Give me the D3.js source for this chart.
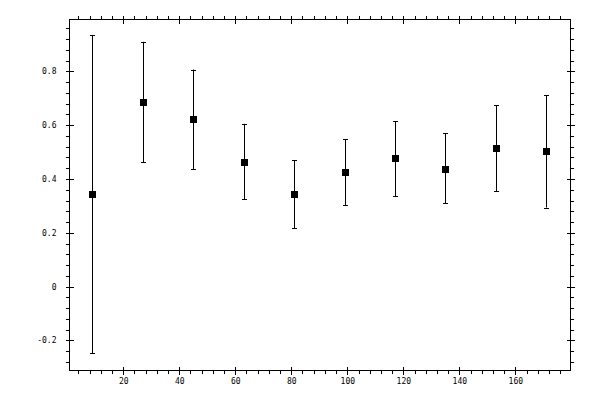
<!DOCTYPE html>
<html>
<head>
<meta charset="utf-8">
<script src="https://cdn.jsdelivr.net/npm/d3@7"></script>
<style>
  body { margin: 0; background: #fff; }
  svg { display: block; }
  .tick text { font-family: "DejaVu Sans Mono", monospace; font-size: 8px; fill: #000; }
</style>
</head>
<body>
<script>
(function() {

    // data
    var xs    = [9, 27, 45, 63, 81, 99, 117, 135, 153, 171];
    var means = [0.343, 0.688, 0.623, 0.465, 0.343, 0.425, 0.477, 0.439, 0.514, 0.503];
    var highs = [0.935, 0.910, 0.807, 0.605, 0.469, 0.547, 0.614, 0.570, 0.674, 0.711];
    var lows  = [-0.248, 0.462, 0.436, 0.324, 0.216, 0.302, 0.335, 0.309, 0.354, 0.294];

    var xTicks = [20, 40, 60, 80, 100, 120, 140, 160];
    var yTicks = [-0.2, 0, 0.2, 0.4, 0.6, 0.8];

    var width = 600, height = 400;
    var left = 69.5, right = 570.5, top = 19.5, bottom = 370.5;

    var data = xs.map(function(d, i) {
        return {x: d, y: means[i], hi: highs[i], lo: lows[i]};
    });

    var x = d3.scaleLinear().domain([0.8, 179.7]).range([left, right]);
    var y = d3.scaleLinear().domain([-0.312, 0.993]).range([bottom, top]);

    var xMinor = d3.range(1, 45).map(function(i) { return i * 4; })
        .filter(function(v) { return v % 20 !== 0; });
    var yMinor = d3.range(-7, 25).map(function(i) { return +(i * 0.04).toFixed(2); })
        .filter(function(v) { return Math.abs(Math.round(v * 5) - v * 5) > 1e-6; });

    var svg = d3.select('body').append('svg')
        .attr('width', width)
        .attr('height', height);

    function fmt(d) { return String(d); }

    // frame
    svg.append('rect')
        .attr('x', left).attr('y', top)
        .attr('width', right - left).attr('height', bottom - top)
        .attr('fill', 'none').attr('stroke', '#000').attr('stroke-width', 1);

    function axis(gen, scale, ticks, minor, pos, labels, pad) {
        var g = svg.append('g').attr('transform', pos);
        g.call(gen(scale).tickValues(ticks).tickSize(4).tickPadding(pad)
            .tickFormat(labels ? fmt : ''));
        // major ticks cross the frame
        if (gen === d3.axisBottom) g.selectAll('.tick line').attr('y1', -4);
        if (gen === d3.axisTop) g.selectAll('.tick line').attr('y1', 4);
        if (gen === d3.axisLeft) g.selectAll('.tick line').attr('x1', 4);
        if (gen === d3.axisRight) g.selectAll('.tick line').attr('x1', -4);
        g.select('.domain').remove();
        var m = svg.append('g').attr('transform', pos);
        m.call(gen(scale).tickValues(minor).tickSize(3.5).tickFormat(''));
        m.select('.domain').remove();
        svg.selectAll('.tick line').attr('stroke', '#000').attr('shape-rendering', 'crispEdges');
        return g;
    }

    axis(d3.axisBottom, x, xTicks, xMinor, 'translate(0,' + bottom + ')', true, 4);
    axis(d3.axisTop, x, xTicks, xMinor, 'translate(0,' + top + ')', false, 4);
    axis(d3.axisLeft, y, yTicks, yMinor, 'translate(' + left + ',0)', true, 9);
    axis(d3.axisRight, y, yTicks, yMinor, 'translate(' + right + ',0)', false, 9);

    var pts = svg.append('g');

    // error bars
    pts.selectAll('line.bar').data(data).enter().append('line')
        .attr('class', 'bar')
        .attr('x1', function(d) { return Math.round(x(d.x)) + 0.5; })
        .attr('x2', function(d) { return Math.round(x(d.x)) + 0.5; })
        .attr('y1', function(d) { return y(d.hi); })
        .attr('y2', function(d) { return y(d.lo); })
        .attr('stroke', '#000');

    ['hi', 'lo'].forEach(function(k) {
        pts.selectAll('line.cap-' + k).data(data).enter().append('line')
            .attr('class', 'cap-' + k)
            .attr('x1', function(d) { return Math.round(x(d.x)) - 2; })
            .attr('x2', function(d) { return Math.round(x(d.x)) + 3; })
            .attr('y1', function(d) { return Math.round(y(d[k])) + 0.5; })
            .attr('y2', function(d) { return Math.round(y(d[k])) + 0.5; })
            .attr('stroke', '#000');
    });

    // square markers
    pts.selectAll('rect').data(data).enter().append('rect')
        .attr('x', function(d) { return Math.round(x(d.x)) - 3; })
        .attr('y', function(d) { return Math.round(y(d.y)) - 3; })
        .attr('width', 7)
        .attr('height', 7)
        .attr('fill', '#000');
})();
</script>
</body>
</html>
